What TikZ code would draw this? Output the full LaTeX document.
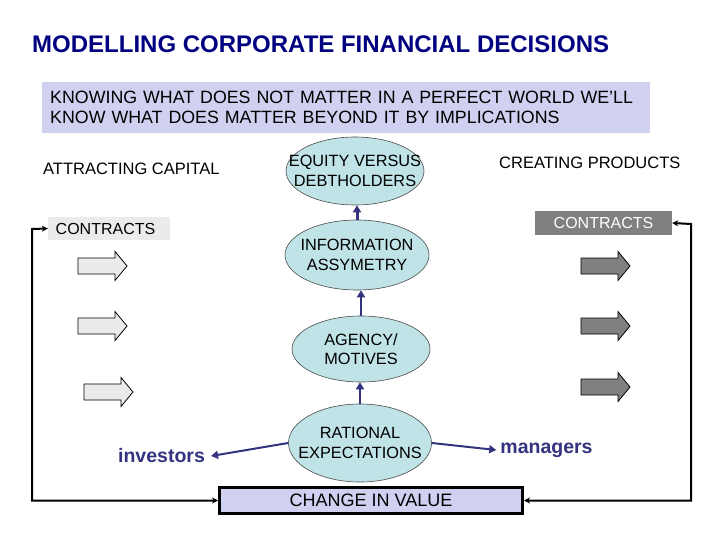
\documentclass[tikz,border=0pt]{standalone}
\usepackage{fontspec}
\setmainfont{Liberation Sans}
\usetikzlibrary{shapes.geometric,arrows.meta,calc}
\definecolor{titleblue}{RGB}{0,0,128}
\definecolor{navyline}{RGB}{51,51,128}
\definecolor{ellfill}{RGB}{191,227,230}
\definecolor{lavender}{RGB}{208,208,240}
\definecolor{lightgray}{RGB}{235,235,235}
\definecolor{darkgray}{RGB}{128,128,128}
\tikzset{
  oval/.style={ellipse, draw=black!70, line width=0.6pt, fill=ellfill, inner sep=0pt},
  ovaltext/.style={inner sep=0pt, align=center, font=\fontsize{16.3}{19.5}\selectfont},
  navyarrow/.style={draw=navyline, line width=2pt, -{Triangle[length=7pt,width=8pt]}},
  fb/.style={draw=black, line width=2pt, {Stealth[length=6pt,width=6pt]}-{Stealth[length=6pt,width=6pt]}},
  plain/.style={inner sep=0pt, font=\fontsize{16.5}{19}\selectfont},
  pics/blockarrow/.style={code={
    \fill[#1] (0,-8) -- (37,-8) -- (37,-14.5) -- (49,0) -- (37,14.5) -- (37,8) -- (0,8) -- cycle;
    \draw[black, line width=0.8pt] (0,-8) -- (37,-8) -- (37,-14.5) -- (49,0) -- (37,14.5) -- (37,8) -- (0,8) -- cycle;
  }}
}
\begin{document}
\begin{tikzpicture}[x=1pt,y=-1pt]
\useasboundingbox (0,0) rectangle (720,540);
\fill[white] (0,0) rectangle (720,540);
% title
\node[anchor=west, inner sep=0pt, text=titleblue, font=\bfseries\fontsize{24}{26}\selectfont] (title) at (32,44) {MODELLING CORPORATE FINANCIAL DECISIONS};
% knowledge box
\node[anchor=north west, fill=lavender, minimum width=608pt, minimum height=51pt, inner xsep=8pt, inner ysep=0pt, text width=592pt, align=left, font=\fontsize{17.8}{20}\selectfont] (know) at (42,82) {KNOWING WHAT DOES NOT MATTER IN A PERFECT WORLD WE'LL\\KNOW WHAT DOES MATTER BEYOND IT BY IMPLICATIONS};
% side headings
\node[plain, anchor=west] (attract) at (43,169) {ATTRACTING CAPITAL};
\node[plain, anchor=west] (create) at (499,163) {CREATING PRODUCTS};
% contracts boxes
\node[fill=lightgray, minimum width=122pt, minimum height=23pt, inner sep=0pt, font=\fontsize{16}{18}\selectfont] (cl) at (109,228.5) {\hspace*{-7pt}CONTRACTS};
\node[fill=darkgray, text=white, minimum width=137pt, minimum height=24pt, inner sep=0pt, font=\fontsize{16}{18}\selectfont] (cr) at (603.5,223) {CONTRACTS};
% block arrows
\pic at (78,266) {blockarrow=lightgray};
\pic at (78,326) {blockarrow=lightgray};
\pic at (84,392) {blockarrow=lightgray};
\pic at (581,266) {blockarrow=darkgray};
\pic at (581,326) {blockarrow=darkgray};
\pic at (581,387) {blockarrow=darkgray};
% ellipses
\node[oval, minimum width=138pt, minimum height=68pt] (equity) at (355,171) {};
\node[ovaltext] (equityt) at (equity) {EQUITY VERSUS\\DEBTHOLDERS};
\node[oval, minimum width=144pt, minimum height=70pt] (info) at (357,255) {};
\node[ovaltext] (infot) at (info) {INFORMATION\\ASSYMETRY};
\node[oval, minimum width=138pt, minimum height=66pt] (agency) at (361,349) {};
\node[ovaltext] (agencyt) at (agency) {AGENCY/\\MOTIVES};
\node[oval, minimum width=143pt, minimum height=78pt] (rational) at (360,443) {};
\node[ovaltext] (rationalt) at (rational) {RATIONAL\\EXPECTATIONS};
% investors / managers
\node[inner xsep=6pt, inner ysep=0pt, text=navyline, font=\bfseries\fontsize{19.5}{22}\selectfont] (investors) at (161.5,456) {investors};
\node[inner xsep=4pt, inner ysep=0pt, text=navyline, font=\bfseries\fontsize{19.5}{22}\selectfont] (managers) at (546.5,450) {managers};
% change in value
\node[fill=lavender, draw=black, line width=3pt, minimum width=303pt, minimum height=26pt, inner sep=0pt, font=\fontsize{18}{20}\selectfont] (change) at (371,500.5) {CHANGE IN VALUE};
% navy arrows
\draw[navyarrow, line width=3pt] (info.north) -- (info.north |- equity.south);
\draw[navyarrow] (agency.north) -- (agency.north |- info.south);
\draw[navyarrow] (rational.north) -- (rational.north |- agency.south);
\draw[navyarrow] (rational.west) -- (investors.east);
\draw[navyarrow] (rational.east) -- (managers.west);
% feedback lines
\coordinate (lcorner) at (32,229);
\coordinate (rcorner) at (691,224);
\draw[fb] (change.west) -| (lcorner) -- (cl.west);
\draw[fb] (change.east) -| (rcorner) -- (cr.east);
\end{tikzpicture}
\end{document}
